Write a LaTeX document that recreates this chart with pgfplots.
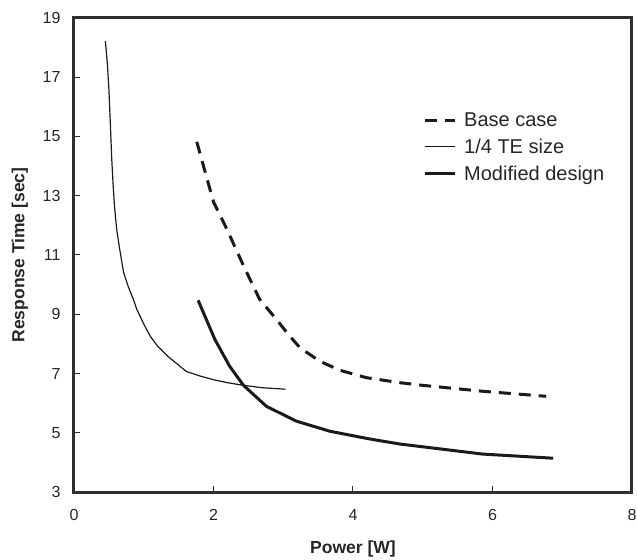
\documentclass[border=0pt]{standalone}
\usepackage{pgfplots}
\pgfplotsset{compat=1.18}
\usepackage{fontspec}
\setmainfont{Liberation Sans}
\setsansfont{Liberation Sans}

\definecolor{framegray}{HTML}{2E2E2E}
\definecolor{curve}{HTML}{1A1A1A}

\pgfplotstableread{
x y
0.45 18.22
0.48 17.40
0.50 16.60
0.52 15.50
0.54 14.30
0.56 13.40
0.58 12.67
0.61 11.90
0.65 11.27
0.71 10.42
0.78 9.92
0.85 9.51
0.90 9.17
1.00 8.67
1.09 8.27
1.20 7.92
1.35 7.57
1.48 7.32
1.61 7.07
1.80 6.92
2.00 6.79
2.20 6.69
2.43 6.60
2.70 6.52
3.03 6.47
}\quarterTE

\pgfplotstableread{
x y
1.76 14.82
2.00 12.79
2.19 11.88
2.43 10.64
2.66 9.51
2.90 8.83
3.09 8.27
3.24 7.87
3.52 7.42
3.81 7.11
4.19 6.86
4.67 6.69
5.00 6.60
5.86 6.40
6.77 6.23
}\basecase

\pgfplotstableread{
x y
1.78 9.47
2.02 8.15
2.23 7.25
2.43 6.60
2.76 5.89
3.19 5.39
3.67 5.05
4.24 4.79
4.67 4.62
5.86 4.28
6.87 4.14
}\modified

\begin{document}
\begin{tikzpicture}
\useasboundingbox (-74bp,-68bp) rectangle (563bp,492bp);
\begin{axis}[
  at={(0,0)}, anchor=south west,
  scale only axis,
  width=558bp, height=474bp,
  xmin=0, xmax=8, ymin=3, ymax=19,
  xtick={0,2,...,8},
  ytick={3,5,...,19},
  tick align=inside,
  xtick pos=bottom, ytick pos=left,
  major tick length=6bp,
  tick style={framegray, line width=1bp},
  axis line style={framegray, line width=3bp},
  /pgf/number format/assume math mode=true,
  tick label style={font=\fontsize{16bp}{19bp}\selectfont, text=black!85},
  yticklabel style={xshift=-10bp},
  xticklabel style={yshift=-14bp},
  xlabel={\textbf{Power [W]}},
  ylabel={\textbf{Response Time [sec]}},
  label style={font=\fontsize{17.5bp}{20bp}\selectfont, text=black!85},
  x label style={at={(axis description cs:0.5,-0.120)}, anchor=center},
  y label style={at={(axis description cs:-0.097,0.5)}, anchor=center},
  legend style={
    draw=none, fill=none,
    at={(axis description cs:0.6254,0.805)}, anchor=north west,
    font=\fontsize{20bp}{24bp}\selectfont,
    text=black!85,
    row sep=7bp,
    inner sep=0pt,
    nodes={inner sep=2bp},
    /tikz/every odd column/.append style={column sep=6bp},
  },
  legend cell align=left,
  legend image code/.code={\draw[#1] (0bp,0bp) -- (30bp,0bp);},
]
\addplot[curve, line width=3bp, dash pattern=on 12bp off 8bp] table {\basecase};
\addlegendentry{Base case}
\addplot[curve, line width=1.2bp] table {\quarterTE};
\addlegendentry{1/4 TE size}
\addplot[curve, line width=3bp] table {\modified};
\addlegendentry{Modified design}
\end{axis}
\end{tikzpicture}
\end{document}
